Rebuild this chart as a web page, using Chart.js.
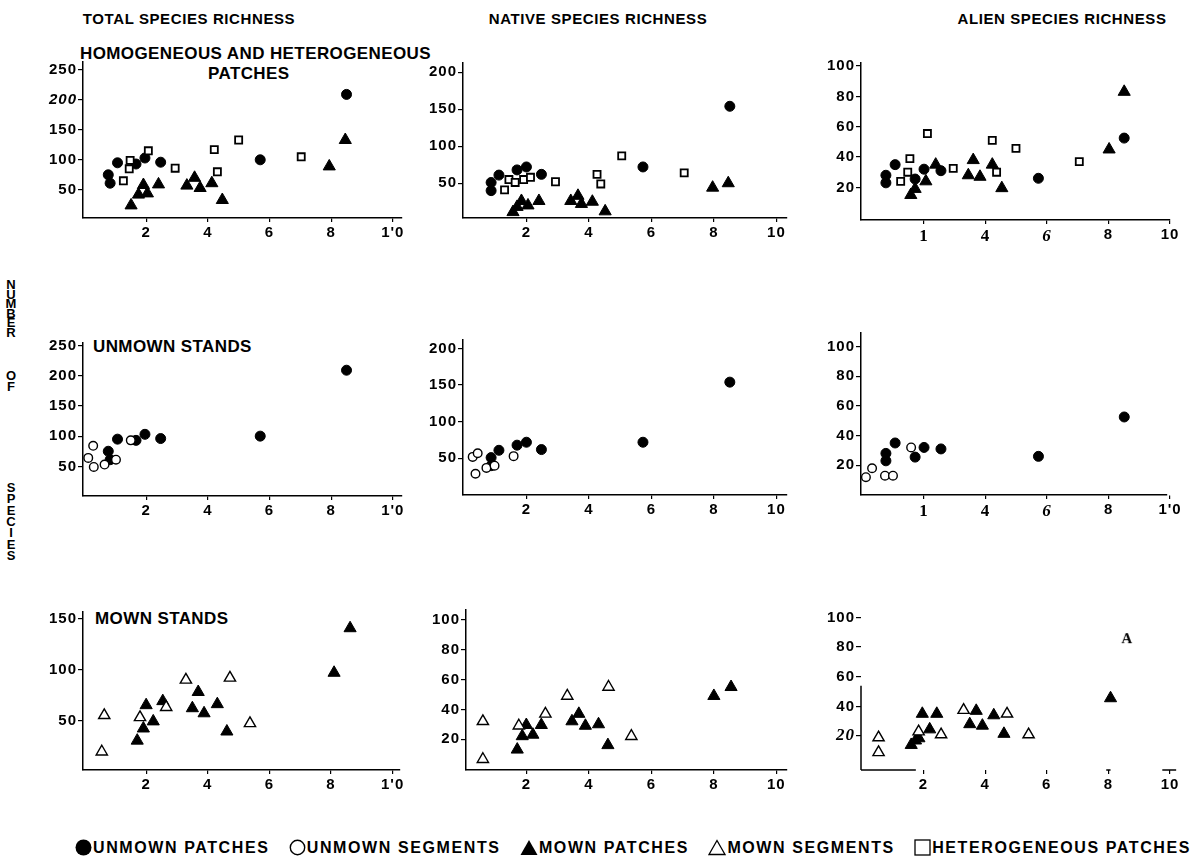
<!DOCTYPE html>
<html>
<head>
<meta charset="utf-8">
<script src="https://cdn.jsdelivr.net/npm/chart.js@4.4.1/dist/chart.umd.min.js"></script>
<style>
body { margin:0; background:#fff; }
#page { position:relative; width:1197px; height:868px; overflow:hidden; background:#fff;
  font-family:"Liberation Sans", Arial, sans-serif; font-weight:bold; color:#000; }
#page canvas { position:absolute; }
.txt { position:absolute; white-space:nowrap; line-height:1; }
.hdr { font-size:15px; letter-spacing:0.6px; top:11px; transform:translateX(-50%); }
.ptitle { font-size:17px; letter-spacing:0.4px; }
.vl { position:absolute; left:4px; width:14px; text-align:center; font-size:13px; line-height:1; }
#legend { position:absolute; top:839px; left:75px; width:1116px; height:20px; font-size:16px; letter-spacing:1.6px;
  display:flex; justify-content:space-between; }
#legend span.item { white-space:nowrap; line-height:17px; }
#legend svg { vertical-align:-3px; margin-right:1px; }
</style>
</head>
<body>
<div id="page">
  <div class="txt hdr" style="left:189px">TOTAL SPECIES RICHNESS</div>
  <div class="txt hdr" style="left:598px">NATIVE SPECIES RICHNESS</div>
  <div class="txt hdr" style="left:1062px">ALIEN SPECIES RICHNESS</div>

  <div class="txt ptitle" style="left:80px;top:45px">HOMOGENEOUS AND HETEROGENEOUS</div>
  <div class="txt ptitle" style="left:208px;top:65px">PATCHES</div>
  <div class="txt ptitle" style="left:93px;top:338px">UNMOWN STANDS</div>
  <div class="txt ptitle" style="left:95px;top:610px">MOWN STANDS</div>

  <div id="ytitle"></div>

  <div id="legend">
    <span class="item"><svg width="17" height="17"><circle cx="8.5" cy="8.5" r="8" fill="#000"/></svg>UNMOWN PATCHES</span>
    <span class="item"><svg width="17" height="17"><circle cx="8.5" cy="8.5" r="7.2" fill="#fff" stroke="#000" stroke-width="1.4"/></svg>UNMOWN SEGMENTS</span>
    <span class="item"><svg width="18" height="17"><polygon points="9,1 17.5,16 0.5,16" fill="#000"/></svg>MOWN PATCHES</span>
    <span class="item"><svg width="18" height="17"><polygon points="9,1.5 17,15.5 1,15.5" fill="#fff" stroke="#000" stroke-width="1.3"/></svg>MOWN SEGMENTS</span>
    <span class="item"><svg width="17" height="17"><rect x="1" y="1" width="15" height="15" fill="#fff" stroke="#000" stroke-width="1.3"/></svg>HETEROGENEOUS PATCHES</span>
  </div>
</div>

<script>
// ---- data (x = area in hectares, y = number of species) ----

// homogeneous and heterogeneous patches (top row)
var totUnmownPatches = [[0.77,75],[0.83,61],[1.07,95],[1.67,93],[1.96,103],[2.47,96],[5.7,100],[8.5,209]];
var totHetPatches    = [[1.26,65],[1.45,85],[1.48,99],[2.07,115],[2.94,86],[4.21,117],[4.31,80],[5.0,133],[7.03,105]];
var totMownPatches   = [[1.51,24],[1.75,42],[1.91,58],[2.04,44],[2.4,59],[3.32,57],[3.57,70],[3.75,53],[4.13,61],[4.47,33],[7.94,89],[8.46,133]];

var natUnmownPatches = [[0.87,51],[0.87,40],[1.12,61],[1.7,68],[2.0,72],[2.48,62],[5.73,72],[8.51,154]];
var natHetPatches    = [[1.3,41],[1.44,55],[1.64,51],[1.91,55],[2.13,58],[2.93,52],[4.26,62],[4.38,49],[5.05,87],[7.05,64]];
var natMownPatches   = [[1.57,11],[1.7,18],[1.84,26],[2.05,20],[2.4,26],[3.42,26],[3.65,33],[3.76,22],[4.11,25],[4.52,12],[7.96,44],[8.46,50]];

var alnUnmownPatches = [[0.76,28],[0.76,23],[1.06,35],[1.71,25.5],[2.0,32],[2.55,31],[5.72,26],[8.51,52.5]];
var alnHetPatches    = [[1.24,24],[1.47,30],[1.54,39],[2.11,55.5],[2.95,32.5],[4.22,51],[4.36,30],[4.99,45.7],[7.05,37]];
var alnMownPatches   = [[1.57,15],[1.71,19],[2.06,24],[2.38,35],[3.44,28],[3.6,38],[3.82,27],[4.22,35],[4.53,19.5],[8.02,45],[8.51,83]];

// unmown stands (middle row) - the patches are the same as above
var totUnmownSegments = [[0.12,64],[0.28,84],[0.3,49],[0.65,53],[1.02,61],[1.5,93]];
var natUnmownSegments = [[0.28,52],[0.44,57],[0.37,29],[0.72,37],[0.98,40],[1.59,53]];
var alnUnmownSegments = [[0.11,12],[0.31,18],[0.73,13],[0.99,13],[1.58,32]];

// mown stands (bottom row)
var totMownStandPatches = [[1.71,30],[1.91,42],[2.0,65],[2.23,49],[2.54,69],[3.5,62],[3.69,78],[3.88,57],[4.31,66],[4.62,39],[8.1,97],[8.62,141]];
var totMownSegments     = [[0.64,55],[0.56,19],[1.8,53],[2.65,63],[3.29,90],[4.72,92],[5.37,47]];
var natMownStandPatches = [[1.71,13],[1.87,22],[2.0,29.5],[2.21,23],[2.48,29.5],[3.46,32],[3.68,37],[3.89,29],[4.31,30],[4.61,16],[8.0,49],[8.55,55]];
var natMownSegments     = [[0.61,32],[0.61,6.5],[1.76,29],[2.61,37],[3.31,49],[4.63,55],[5.36,22]];
var alnMownStandPatches = [[1.6,14],[1.74,17],[1.85,18.5],[1.96,35],[2.2,24.5],[2.43,35],[3.5,28],[3.71,37],[3.91,27],[4.28,34],[4.61,21.5],[8.07,45.5]];
var alnMownSegments     = [[0.54,19],[0.54,9],[1.84,23],[2.57,21],[3.3,37.5],[4.71,35],[5.41,21]];
var alnMownScanA        = [[8.6,86]];   // this mown patch came out as a letter "A" in the scan

// tick values and labels
var xTicks = [2, 4, 6, 8, 10];
var xLabels1 = ['2', '4', '6', '8', "1'0"];
var xLabels2 = ['2', '4', '6', '8', '10'];
var xLabelsAlien = ['1', '4', '6', '8', '10'];
var xLabelsAlien2 = ['1', '4', '6', '8', "1'0"];
var yTicksTotal = [50, 100, 150, 200, 250];
var yTicksNative = [50, 100, 150, 200];
var yTicksPct = [20, 40, 60, 80, 100];
var yTicksMown = [50, 100, 150];

// ---- marker look ----
var letterA = document.createElement('canvas');
letterA.width = 16; letterA.height = 16;
(function(){
	var g = letterA.getContext('2d');
	g.font = 'bold 15px "Liberation Serif", serif';
	g.textAlign = 'center'; g.textBaseline = 'middle';
	g.fillStyle = '#000';
	g.fillText('A', 8, 9);
})();

var markers = {
	dot:  {pointStyle:'circle', pointRadius:5, backgroundColor:'#000', borderColor:'#000', borderWidth:1},
	ring: {pointStyle:'circle', pointRadius:4.3, backgroundColor:'#fff', borderColor:'#000', borderWidth:1.4},
	tri:  {pointStyle:'triangle', pointRadius:7, backgroundColor:'#000', borderColor:'#000', borderWidth:1},
	otri: {pointStyle:'triangle', pointRadius:6.5, backgroundColor:'#fff', borderColor:'#000', borderWidth:1.4},
	sq:   {pointStyle:'rect', pointRadius:5, backgroundColor:'#fff', borderColor:'#000', borderWidth:1.8},
	scanA:{pointStyle:letterA, pointRadius:8, backgroundColor:'#000', borderColor:'#000', borderWidth:0}
};

var SANS = '"Liberation Sans", Arial, sans-serif';
var SERIF = '"Liberation Serif", serif';

// ---- panels: plot rectangle on the page, axis ranges, series ----
var panels = [
	{area:[83,62,402,218], x:[-0.05,10.3], y:[3,263], yTicks:yTicksTotal, xLabels:xLabels1, italicY:[200],
	 sets:[[totMownPatches,'tri'],[totHetPatches,'sq'],[totUnmownPatches,'dot']]},
	{area:[463,63,787,218], x:[-0.03,10.34], y:[3,212.5], yTicks:yTicksNative, xLabels:xLabels2,
	 sets:[[natMownPatches,'tri'],[natHetPatches,'sq'],[natUnmownPatches,'dot']]},
	{area:[861,63,1170,220], x:[-0.05,10], y:[-1.5,102], yTicks:yTicksPct, xLabels:xLabelsAlien, serifX:true,
	 sets:[[alnMownPatches,'tri'],[alnHetPatches,'sq'],[alnUnmownPatches,'dot']]},

	{area:[83,343,402,496], x:[-0.05,10.3], y:[1,254], yTicks:yTicksTotal, xLabels:xLabels1,
	 sets:[[totUnmownSegments,'ring'],[totUnmownPatches,'dot']]},
	{area:[463,340,787,495], x:[-0.03,10.34], y:[0,211.5], yTicks:yTicksNative, xLabels:xLabels2,
	 sets:[[natUnmownSegments,'ring'],[natUnmownPatches,'dot']]},
	{area:[861,333,1167,495], x:[-0.05,9.9], y:[0,109], yTicks:yTicksPct, xLabels:xLabelsAlien2, serifX:true,
	 sets:[[alnUnmownSegments,'ring'],[alnUnmownPatches,'dot']]},

	{area:[83,612,400,770], x:[-0.05,10.24], y:[1,157], yTicks:yTicksMown, xLabels:xLabels1,
	 sets:[[totMownSegments,'otri'],[totMownStandPatches,'tri']]},
	{area:[466,610,787,770], x:[0.07,10.34], y:[-0.7,106.7], yTicks:yTicksPct, xLabels:xLabels2,
	 sets:[[natMownSegments,'otri'],[natMownStandPatches,'tri']]},
	{area:[861,610,1170,770], x:[-0.03,10], y:[-2.9,105], yTicks:yTicksPct, xLabels:xLabels2, serifY:[20],
	 partial:{y:[[-2.9,54]], x:[[-0.03,1.75],[7.93,8.07],[9.75,10.2]]},
	 sets:[[alnMownSegments,'otri'],[alnMownStandPatches,'tri'],[alnMownScanA,'scanA']]}
];

var Y_W = 70, X_H = 32, PAD_T = 14, PAD_R = 22;

// draws only pieces of an axis line, as in the damaged lower right panel
var partialAxis = {
	id: 'partialAxis',
	afterDraw: function(chart, args, opts) {
		if (!opts || !opts.segs) return;
		var ctx = chart.ctx, xs = chart.scales.x, ys = chart.scales.y;
		ctx.save();
		ctx.strokeStyle = '#000';
		ctx.lineWidth = 1.5;
		opts.segs.y.forEach(function(s){
			ctx.beginPath();
			ctx.moveTo(xs.left, ys.getPixelForValue(s[0]));
			ctx.lineTo(xs.left, ys.getPixelForValue(s[1]));
			ctx.stroke();
		});
		opts.segs.x.forEach(function(s){
			ctx.beginPath();
			ctx.moveTo(xs.getPixelForValue(s[0]), ys.bottom);
			ctx.lineTo(xs.getPixelForValue(s[1]), ys.bottom);
			ctx.stroke();
		});
		ctx.restore();
	}
};

var spacing = {
	id: 'spacing',
	beforeDraw: function(chart) { chart.ctx.letterSpacing = '1px'; }
};

function makePanel(p) {
	var left = p.area[0], top = p.area[1], right = p.area[2], bottom = p.area[3];
	var cv = document.createElement('canvas');
	cv.width = right - left + Y_W + PAD_R;
	cv.height = bottom - top + PAD_T + X_H;
	cv.style.left = (left - Y_W) + 'px';
	cv.style.top = (top - PAD_T) + 'px';
	document.getElementById('page').appendChild(cv);

	var datasets = p.sets.map(function(s){
		var m = markers[s[1]];
		return {
			data: s[0].map(function(d){ return {x:d[0], y:d[1]}; }),
			pointStyle: m.pointStyle, pointRadius: m.pointRadius,
			backgroundColor: m.backgroundColor, borderColor: m.borderColor,
			borderWidth: m.borderWidth, showLine: false, clip: false
		};
	});

	var border = p.partial ? {display:false} : {display:true, color:'#000', width:1.5};

	new Chart(cv.getContext('2d'), {
		type: 'scatter',
		data: {datasets: datasets},
		plugins: [partialAxis, spacing],
		options: {
			responsive: false,
			animation: false,
			devicePixelRatio: 1,
			events: [],
			layout: {padding: {top:PAD_T, right:PAD_R, left:0, bottom:0}},
			plugins: {
				legend: {display:false},
				tooltip: {enabled:false},
				partialAxis: {segs: p.partial || null}
			},
			scales: {
				x: {
					type: 'linear', min: p.x[0], max: p.x[1],
					afterBuildTicks: function(sc){ sc.ticks = xTicks.map(function(v){ return {value:v}; }); },
					afterFit: function(sc){ sc.height = X_H; },
					border: border,
					grid: {display:true, drawOnChartArea:false, drawTicks:true, tickLength:4, color:'#000', lineWidth:1.2},
					ticks: {
						color:'#000', padding:2, maxRotation:0, autoSkip:false,
						font: function(c){
							var i = c.index;
							if (p.serifX && i < 3) return {family:SERIF, size:17, weight:'bold', style: i == 2 ? 'italic' : 'normal'};
							return {family:SANS, size:15, weight:'bold'};
						},
						callback: function(v, i){ return p.xLabels[i]; }
					}
				},
				y: {
					type: 'linear', min: p.y[0], max: p.y[1],
					afterBuildTicks: function(sc){ sc.ticks = p.yTicks.map(function(v){ return {value:v}; }); },
					afterFit: function(sc){ sc.width = Y_W; },
					border: border,
					grid: {display:true, drawOnChartArea:false, drawTicks:true, tickLength:5, color:'#000', lineWidth:1.2},
					ticks: {
						color:'#000', padding:1, autoSkip:false,
						font: function(c){
							var v = c.tick ? c.tick.value : null;
							if (p.serifY && p.serifY.indexOf(v) >= 0) return {family:SERIF, size:17, weight:'bold', style:'italic'};
							if (p.italicY && p.italicY.indexOf(v) >= 0) return {family:SANS, size:15, weight:'bold', style:'italic'};
							return {family:SANS, size:15, weight:'bold'};
						},
						callback: function(v){ return String(v); }
					}
				}
			}
		}
	});
}

panels.forEach(makePanel);

// vertical axis title, one letter under the other
var yTitleWords = [['NUMBER', 284, 9.6], ['OF', 375, 10.5], ['SPECIES', 487, 11.3]];
var yt = document.getElementById('ytitle');
yTitleWords.forEach(function(w){
	for (var a = 0; a < w[0].length; a++) {
		var d = document.createElement('div');
		d.className = 'vl';
		d.textContent = w[0][a];
		d.style.top = (w[1] + a * w[2] - 6) + 'px';
		yt.appendChild(d);
	}
});
</script>
</body>
</html>
